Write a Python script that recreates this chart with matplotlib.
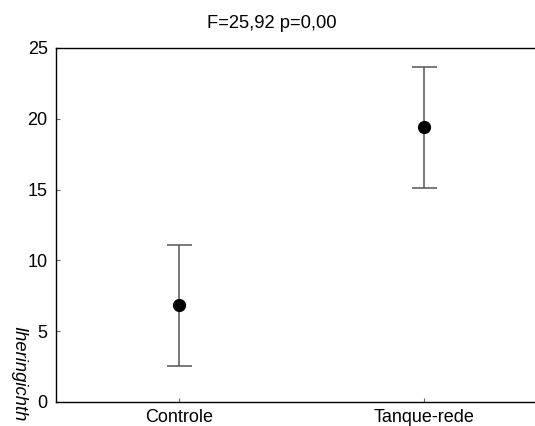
import matplotlib
matplotlib.use('Agg')
import matplotlib.pyplot as plt

# medias e intervalos por tratamento
grupos = ['Controle', 'Tanque-rede']
medias = [6.85, 19.44]
limite_inf = [2.55, 15.13]
limite_sup = [11.09, 23.68]

titulo = 'F=25,92 p=0,00'
rotulo_y = 'Iheringichth'

plt.rcParams['font.family'] = ['Liberation Sans', 'DejaVu Sans']

fig = plt.figure(figsize=(5.35, 4.26), dpi=100)
W, H = 535, 426
ax = fig.add_axes([56 / W, (H - 402) / H, (546.5 - 56) / W, (402 - 48) / H])

x = list(range(len(grupos)))
err = [[m - lo for m, lo in zip(medias, limite_inf)],
       [hi - m for m, hi in zip(medias, limite_sup)]]
ax.errorbar(x, medias, yerr=err, fmt='o', color='black', markersize=8.5,
            ecolor='#555555', elinewidth=1.1, capsize=9, capthick=1.1)

ax.set_xlim(-0.5, 1.5)
ax.set_ylim(0, 25)
ax.set_yticks([0, 5, 10, 15, 20, 25])
ax.set_xticks(x)
ax.set_xticklabels(grupos)
ax.tick_params(direction='in', length=3, width=0.8, color='#666666',
               labelsize=13, pad=5)
ax.tick_params(axis='y', pad=6)
ax.spines['right'].set_visible(False)
for s in ['left', 'bottom', 'top']:
    ax.spines[s].set_linewidth(1.0)

fig.text(272 / W, 1 - 23 / H, titulo, ha='center', va='center', fontsize=13.2)
fig.text(19 / W, 1 - 326 / H, rotulo_y, rotation=270, ha='center', va='top',
         fontsize=13.2, style='italic')

fig.savefig('out.png', dpi=100)
